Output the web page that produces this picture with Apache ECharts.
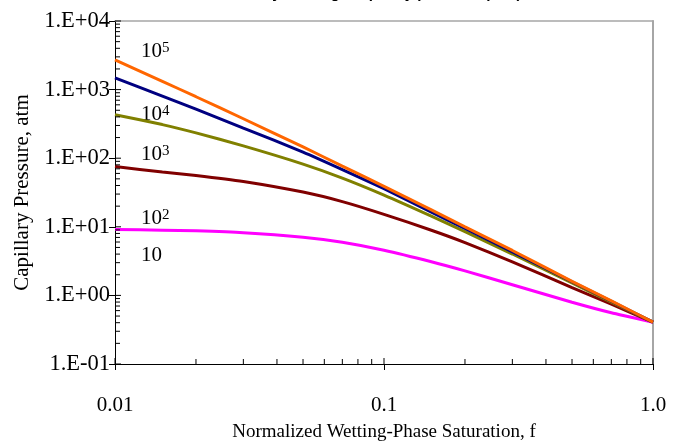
<!DOCTYPE html>
<html>
<head>
<meta charset="utf-8">
<script src="https://cdn.jsdelivr.net/npm/echarts@6/dist/echarts.min.js"></script>
<style>
html,body{margin:0;padding:0;background:#fff;}
#chart{width:674px;height:447px;}
</style>
</head>
<body>
<div id="chart"></div>
<script>
// ---- data ----
const xVals = [0.01, 0.015, 0.02, 0.03, 0.05, 0.07, 0.1, 0.15, 0.2, 0.3, 0.5, 0.7, 1.0];
const seriesNames = ['10^5', '10^4', '10^3', '10^2', '10'];
const pc1e5 = [2710, 1321, 787, 376, 146, 76.7, 38.9, 17.6, 10.0, 4.52, 1.60, 0.832, 0.407];
const pc1e4 = [1479, 804, 519, 275, 123, 68.4, 35.9, 16.4, 9.44, 4.32, 1.58, 0.822, 0.407];
const pc1e3 = [431, 309, 234, 151, 82.0, 51.3, 29.0, 14.3, 8.49, 4.01, 1.52, 0.796, 0.407];
const pc1e2 = [75.5, 63.0, 56.1, 45.8, 32.1, 23.3, 15.2, 8.91, 5.89, 3.09, 1.30, 0.745, 0.407];
const pc1e1 = [9.16, 8.93, 8.73, 8.22, 7.05, 5.96, 4.56, 3.10, 2.28, 1.43, 0.794, 0.558, 0.407];
const xTickLabels = {'-2': '0.01', '-1': '0.1', '0': '1.0'};
const yTickLabels = {'-1': '1.E-01', '0': '1.E+00', '1': '1.E+01', '2': '1.E+02', '3': '1.E+03', '4': '1.E+04'};
const labelBase = ['10', '10', '10', '10', '10'];
const labelExp = ['5', '4', '3', '2', ''];
const xMin = 0.01, xMax = 1, yMin = 0.1, yMax = 10000;

// axis minor/major tick values (inside ticks)
const tickData = [];
[0.01, 0.1].forEach(d => { for (let m = 2; m <= 9; m++) tickData.push([d * m, yMin, 0]); });
[0.01, 0.1, 1].forEach(d => tickData.push([d, yMin, 2]));
[0.1, 1, 10, 100, 1000].forEach(d => { for (let m = 2; m <= 9; m++) tickData.push([xMin, d * m, 1]); });
[0.1, 1, 10, 100, 1000, 10000].forEach(d => tickData.push([xMin, d, 3]));

const FONT = '"Liberation Serif","Times New Roman",serif';
const colors = ['#FF6600', '#000080', '#808000', '#800000', '#FF00FF'];
const allSeries = [pc1e5, pc1e4, pc1e3, pc1e2, pc1e1];

const chart = echarts.init(document.getElementById('chart'), null, {renderer: 'canvas'});

const lineSeries = allSeries.map((arr, i) => ({
  name: seriesNames[i],
  type: 'line',
  xAxisIndex: 0, yAxisIndex: 0,
  data: xVals.map((x, j) => [x, arr[j]]),
  showSymbol: false,
  symbol: 'none',
  smooth: 0.2,
  lineStyle: {color: colors[i], width: 3},
  z: 10 - i,
  silent: true
})).reverse();

const tickSeries = {
  type: 'custom',
  xAxisIndex: 0, yAxisIndex: 0,
  silent: true,
  clip: false,
  z: 20,
  data: tickData,
  renderItem: function (params, api) {
    const p = api.coord([api.value(0), api.value(1)]);
    const k = api.value(2);
    const len = (k >= 2) ? 6 : 5;
    let shape;
    if (k === 0 || k === 2) shape = {x1: p[0], y1: p[1], x2: p[0], y2: p[1] - len};
    else shape = {x1: p[0], y1: p[1], x2: p[0] + len, y2: p[1]};
    return {type: 'line', shape: shape, style: {stroke: '#000', lineWidth: 1}};
  }
};

const labelGraphics = labelBase.map((b, i) => {
  const tops = [41, 104, 144, 207.5, 245];
  const txt = labelExp[i] ? '{n|' + b + '}{s|' + labelExp[i] + '}' : '{n|' + b + '}';
  return {
    type: 'text', left: 141, top: tops[i], silent: true,
    style: {
      text: txt,
      rich: {
        n: {fontFamily: FONT, fontSize: 21, lineHeight: 21, fill: '#000'},
        s: {fontFamily: FONT, fontSize: 15, lineHeight: 10, verticalAlign: 'top', fill: '#000'}
      }
    }
  };
});

const option = {
  animation: false,
  backgroundColor: '#fff',
  title: {
    text: 'Primary-drainage capillary pressure (atm)',
    left: 368, top: -19, textAlign: 'center',
    textStyle: {fontFamily: 'Arial, "Liberation Sans", sans-serif', fontSize: 15, fontWeight: 'bold', color: '#000'}
  },
  grid: {left: 115, right: 21, top: 21, bottom: 82, containLabel: false},
  xAxis: [{
    type: 'log', logBase: 10, min: xMin, max: xMax,
    position: 'bottom',
    name: 'Normalized Wetting-Phase Saturation, f',
    nameLocation: 'middle', nameGap: 59,
    nameTextStyle: {fontFamily: FONT, fontSize: 19, color: '#000'},
    axisLine: {show: true, onZero: false, lineStyle: {color: '#000', width: 1}},
    axisTick: {show: true, inside: false, length: 6, lineStyle: {color: '#000'}},
    axisLabel: {
      margin: 31, fontFamily: FONT, fontSize: 21, color: '#000',
      formatter: v => xTickLabels[String(Math.round(Math.log10(v)))] || ''
    },
    splitLine: {show: false}, minorTick: {show: false}
  }, {
    type: 'log', logBase: 10, min: xMin, max: xMax, position: 'top',
    axisLine: {show: true, onZero: false, lineStyle: {color: '#a6a6a6', width: 1.5}},
    axisTick: {show: false}, axisLabel: {show: false}, splitLine: {show: false}
  }],
  yAxis: [{
    type: 'log', logBase: 10, min: yMin, max: yMax,
    position: 'left',
    name: 'Capillary Pressure, atm',
    nameLocation: 'middle', nameGap: 82, nameRotate: 90,
    nameTextStyle: {fontFamily: FONT, fontSize: 21, color: '#000'},
    axisLine: {show: true, onZero: false, lineStyle: {color: '#000', width: 1}},
    axisTick: {show: true, inside: false, length: 6, lineStyle: {color: '#000'}},
    axisLabel: {
      margin: 5, fontFamily: FONT, fontSize: 22.5, color: '#000', padding: [0, 0, 4, 0],
      formatter: v => yTickLabels[String(Math.round(Math.log10(v)))] || ''
    },
    splitLine: {show: false}
  }, {
    type: 'log', logBase: 10, min: yMin, max: yMax, position: 'right',
    axisLine: {show: true, onZero: false, lineStyle: {color: '#a6a6a6', width: 2}},
    axisTick: {show: false}, axisLabel: {show: false}, splitLine: {show: false}
  }],
  graphic: labelGraphics,
  series: lineSeries.concat([tickSeries])
};
chart.setOption(option);
</script>
</body>
</html>
